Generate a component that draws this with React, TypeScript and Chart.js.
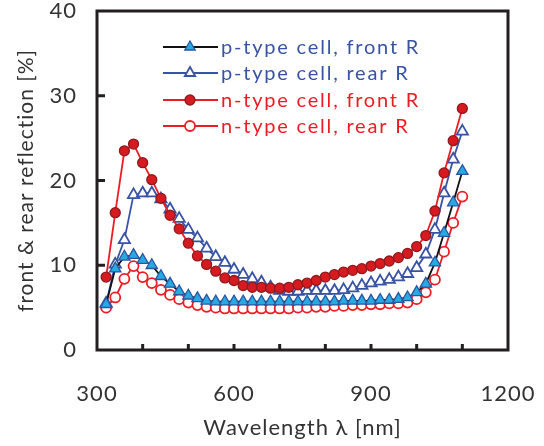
import React, { useEffect, useRef } from "react";
import { Chart, registerables } from "chart.js";

Chart.register(...registerables);

const wavelengths = [320, 340, 360, 380, 400, 420, 440, 460, 480, 500, 520, 540, 560, 580, 600, 620, 640, 660, 680, 700, 720, 740, 760, 780, 800, 820, 840, 860, 880, 900, 920, 940, 960, 980, 1000, 1020, 1040, 1060, 1080, 1100];

const pFront = [5.4, 9.6, 11.0, 11.2, 10.6, 10.0, 8.7, 7.8, 6.9, 6.4, 6.1, 5.8, 5.7, 5.7, 5.7, 5.7, 5.7, 5.7, 5.7, 5.7, 5.7, 5.7, 5.7, 5.7, 5.7, 5.7, 5.8, 5.8, 5.8, 5.8, 5.9, 5.9, 6.0, 6.2, 6.8, 7.8, 10.3, 13.8, 17.4, 21.1];

const pRear = [5.5, 10.1, 13.0, 18.3, 18.5, 18.5, 17.8, 16.6, 15.5, 14.2, 13.2, 12.0, 11.0, 10.3, 9.5, 8.9, 8.4, 8.0, 7.4, 7.0, 6.9, 6.9, 7.0, 7.0, 7.0, 7.0, 7.1, 7.3, 7.6, 7.9, 8.1, 8.3, 8.6, 9.0, 9.7, 11.3, 14.2, 18.5, 22.5, 25.8];

const nFront = [8.6, 16.2, 23.5, 24.3, 22.1, 20.1, 17.9, 15.9, 14.3, 12.6, 11.1, 10.1, 9.3, 8.5, 8.2, 7.6, 7.4, 7.4, 7.3, 7.3, 7.4, 7.7, 7.9, 8.2, 8.6, 8.9, 9.2, 9.4, 9.6, 9.9, 10.2, 10.5, 10.9, 11.4, 12.2, 13.5, 16.4, 20.9, 24.7, 28.5];

const nRear = [5.0, 6.2, 8.4, 9.9, 8.6, 7.9, 7.1, 6.5, 6.0, 5.6, 5.3, 5.1, 5.0, 4.9, 4.9, 4.9, 4.9, 4.9, 4.9, 4.9, 4.9, 5.0, 5.0, 5.1, 5.1, 5.2, 5.2, 5.3, 5.3, 5.4, 5.4, 5.5, 5.5, 5.6, 6.0, 6.8, 8.3, 11.6, 15.0, 18.1];

const seriesLabels = ["p-type cell, front R", "p-type cell, rear R", "n-type cell, front R", "n-type cell, rear R"];
const xTickLabels = [300, 600, 900, 1200];
const xTitle = "Wavelength \u03bb [nm]";
const yTitle = "front & rear reflection [%]";

const FONT = "Lato, 'Open Sans', sans-serif";
const AXIS = "#231f20";
const BLUE = "#3953a4";
const RED = "#ed1c24";

function pts(vals: number[]) {
  return wavelengths.map((w, i) => ({ x: w, y: vals[i] }));
}

const spacingPlugin = {
  id: "letterSpacing",
  beforeDraw(chart: any) {
    (chart.ctx as any).letterSpacing = "1px";
  },
  afterDraw(chart: any) {
    (chart.ctx as any).letterSpacing = "0px";
  },
};

const framePlugin = {
  id: "frameTicks",
  afterDatasetsDraw(chart: any) {
    const { ctx, chartArea } = chart;
    const xs = chart.scales.x;
    const ys = chart.scales.y;
    ctx.save();
    ctx.strokeStyle = AXIS;
    ctx.lineWidth = 3;
    ctx.beginPath();
    xs.ticks.forEach((t: any) => {
      const px = xs.getPixelForValue(t.value);
      if (px <= chartArea.left + 2 || px >= chartArea.right - 2) return;
      ctx.moveTo(px, chartArea.bottom);
      ctx.lineTo(px, chartArea.bottom - 6);
    });
    ys.ticks.forEach((t: any) => {
      const py = ys.getPixelForValue(t.value);
      if (py <= chartArea.top + 2 || py >= chartArea.bottom - 2) return;
      ctx.moveTo(chartArea.left, py);
      ctx.lineTo(chartArea.left + 8, py);
    });
    ctx.stroke();
    ctx.lineJoin = "miter";
    ctx.strokeRect(chartArea.left, chartArea.top, chartArea.right - chartArea.left, chartArea.bottom - chartArea.top);
    ctx.restore();
  },
};

function drawMarker(ctx: CanvasRenderingContext2D, style: string, x: number, y: number, r: number, fill: string, stroke: string, lw: number) {
  ctx.beginPath();
  if (style === "triangle") {
    let rad = 0;
    ctx.moveTo(x + Math.sin(rad) * r, y - Math.cos(rad) * r);
    rad += (2 * Math.PI) / 3;
    ctx.lineTo(x + Math.sin(rad) * r, y - Math.cos(rad) * r);
    rad += (2 * Math.PI) / 3;
    ctx.lineTo(x + Math.sin(rad) * r, y - Math.cos(rad) * r);
    ctx.closePath();
  } else {
    ctx.arc(x, y, r, 0, Math.PI * 2);
  }
  ctx.fillStyle = fill;
  ctx.fill();
  ctx.lineWidth = lw;
  ctx.strokeStyle = stroke;
  ctx.stroke();
}

const legendPlugin = {
  id: "customLegend",
  afterDraw(chart: any) {
    const { ctx } = chart;
    const rowY = [47, 73, 100, 126];
    const textColors = [BLUE, BLUE, RED, RED];
    ctx.save();
    [0, 1, 2, 3].forEach((di, row) => {
      const ds = chart.data.datasets.find((d: any) => d.legendIndex === di);
      const y = rowY[row];
      ctx.strokeStyle = ds.borderColor;
      ctx.lineWidth = 1.8;
      ctx.beginPath();
      ctx.moveTo(163, y);
      ctx.lineTo(218, y);
      ctx.stroke();
      drawMarker(ctx, ds.pointStyle, 190, y, ds.pointStyle === "triangle" ? 6 : 5, ds.pointBackgroundColor, ds.pointBorderColor, ds.pointBorderWidth);
      ctx.fillStyle = textColors[row];
      ctx.font = `20px ${FONT}`;
      (ctx as any).letterSpacing = "1.8px";
      ctx.textBaseline = "middle";
      ctx.textAlign = "left";
      ctx.fillText(ds.label, 221, y + 1);
    });
    ctx.restore();
  },
};

export default function App() {
  const ref = useRef<HTMLCanvasElement | null>(null);
  useEffect(() => {
    if (!ref.current) return;
    const chart = new Chart(ref.current, {
      type: "line",
      data: {
        datasets: [
          {
            label: seriesLabels[2],
            legendIndex: 2,
            data: pts(nFront),
            borderColor: RED,
            borderWidth: 1.8,
            pointStyle: "circle",
            pointRadius: 5,
            pointBackgroundColor: "#d71920",
            pointBorderColor: "#8e1b1e",
            pointBorderWidth: 1.3,
          },
          {
            label: seriesLabels[0],
            legendIndex: 0,
            data: pts(pFront),
            borderColor: "#111111",
            borderWidth: 1.8,
            pointStyle: "triangle",
            pointRadius: 6.5,
            pointBackgroundColor: "#27aae1",
            pointBorderColor: "#2b55a3",
            pointBorderWidth: 1.3,
          },
          {
            label: seriesLabels[1],
            legendIndex: 1,
            data: pts(pRear),
            borderColor: BLUE,
            borderWidth: 1.8,
            pointStyle: "triangle",
            pointRadius: 6.5,
            pointBackgroundColor: "#ffffff",
            pointBorderColor: BLUE,
            pointBorderWidth: 1.8,
          },
          {
            label: seriesLabels[3],
            legendIndex: 3,
            data: pts(nRear),
            borderColor: RED,
            borderWidth: 1.8,
            pointStyle: "circle",
            pointRadius: 5,
            pointBackgroundColor: "#ffffff",
            pointBorderColor: RED,
            pointBorderWidth: 1.8,
          },
        ] as any,
      },
      options: {
        responsive: false,
        animation: false,
        devicePixelRatio: 1,
        layout: { padding: { top: 11, right: 36, left: 0, bottom: 0 } },
        plugins: { legend: { display: false }, tooltip: { enabled: false } },
        scales: {
          x: {
            type: "linear",
            min: 300,
            max: 1200,
            grid: { display: false },
            border: { display: false },
            ticks: {
              stepSize: 100,
              autoSkip: false,
              maxRotation: 0,
              padding: 23,
              color: "#333333",
              font: { family: FONT, size: 22 },
              callback: (v: any) => (xTickLabels.includes(Number(v)) ? String(v) : ""),
            },
            title: {
              display: true,
              text: xTitle,
              color: "#333333",
              font: { family: FONT, size: 22 },
              padding: { top: 0, bottom: 5 },
            },
            afterFit: (s: any) => {
              s.height = 96;
              s.paddingLeft = 0;
              s.paddingRight = 0;
            },
          },
          y: {
            min: 0,
            max: 40,
            grid: { display: false },
            border: { display: false },
            ticks: {
              stepSize: 10,
              padding: 12,
              color: "#333333",
              font: { family: FONT, size: 22 },
            },
            title: {
              display: true,
              text: yTitle,
              color: "#333333",
              font: { family: FONT, size: 21 },
              padding: { top: 14, bottom: 0 },
            },
            afterFit: (s: any) => {
              s.width = 97;
              s.paddingTop = 0;
              s.paddingBottom = 0;
            },
          },
        },
      },
      plugins: [spacingPlugin, framePlugin, legendPlugin],
    });
    return () => chart.destroy();
  }, []);
  return (
    <div style={{ position: "fixed", left: 0, top: 0, width: 544, height: 446, background: "#fff" }}>
      <canvas ref={ref} width={544} height={446} />
    </div>
  );
}
